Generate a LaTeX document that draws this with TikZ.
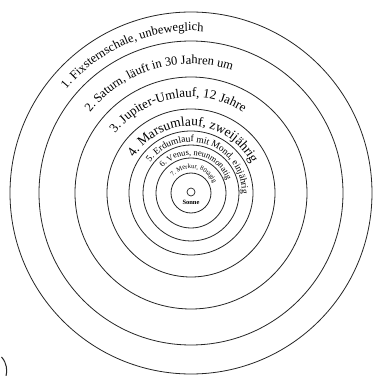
\documentclass[tikz,border=0pt]{standalone}
\usepackage{fontspec}
\setmainfont{Liberation Serif}
\usetikzlibrary{decorations.text}
\newcommand{\lblfont}[1]{\fontsize{#1}{#1}\selectfont}
\tikzset{
  orbit/.style={draw=black!85, line width=0.8pt},
  arclabel/.style={decorate, decoration={text along path, text align=center, text color=black}}
}
\begin{document}
\begin{tikzpicture}[x=1pt,y=1pt]
\path[fill=white,use as bounding box] (0,0) rectangle (374,376);
\begin{scope}[shift={(191,183)}]
  \foreach \r in {20,35,48,62,84,116,152,181}{
    \draw[orbit] (0,0) circle[radius=\r];
  }
  \node[draw=black!85, line width=0.7pt, circle, minimum size=8pt, inner sep=0pt] (sun) at (0,1) {};
  \node[font=\lblfont{6.5}\bfseries, inner sep=0pt] (sonne) at (0,-9.5) {Sonne};
  % labels
  \path[arclabel, decoration={text={|\lblfont{12.5}|1. Fixsternschale, unbeweglich}}]
    (155:162) arc[start angle=155, end angle=71, radius=162];
  \path[arclabel, decoration={text={|\lblfont{12.5}|2. Saturn, läuft in 30 Jahren um}}]
    (155:129) arc[start angle=155, end angle=58, radius=129];
  \path[arclabel, decoration={text={|\lblfont{13}|3. Jupiter-Umlauf, 12 Jahre}}]
    (160:96) arc[start angle=160, end angle=39, radius=96];
  \path[arclabel, decoration={text={|\lblfont{13.5}|4. Marsumlauf, zweijährig}}]
    (170:67) arc[start angle=170, end angle=4, radius=67];
  \path[arclabel, decoration={text={|\lblfont{9.5}|5. Erdumlauf mit Mond, einjährig}}]
    (170:51) arc[start angle=170, end angle=-28, radius=51];
  \path[arclabel, decoration={text={|\lblfont{8.5}|6. Venus, neunmonatig}}]
    (170:38) arc[start angle=170, end angle=-12, radius=38];
  \path[arclabel, decoration={text={|\lblfont{6.5}|7. Merkur, 80tägig}}]
    (170:24.5) arc[start angle=170, end angle=-8, radius=24.5];
\end{scope}
\draw[black!85, line width=1pt] (1.5,19) .. controls (7,13) and (7.5,5) .. (6,0);
\end{tikzpicture}
\end{document}
